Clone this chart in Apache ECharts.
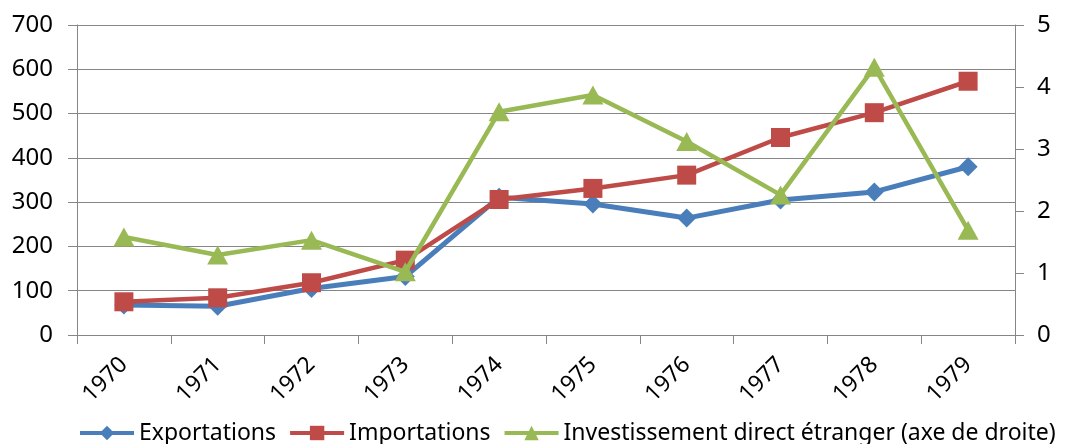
<!DOCTYPE html>
<html><head><meta charset="utf-8">
<script src="https://cdn.jsdelivr.net/npm/echarts@6/dist/echarts.min.js"></script>
<style>html,body{margin:0;padding:0;background:#fff}#c{width:1070px;height:444px}</style>
</head><body><div id="c"></div>
<script>
var years = ['1970','1971','1972','1973','1974','1975','1976','1977','1978','1979'];
var exportations = [68, 65, 105, 132, 311, 296, 264, 305, 323, 380];
var importations = [75, 84, 118, 169, 306, 331, 361, 446, 502, 573];
var ide = [1.58, 1.29, 1.53, 1.02, 3.6, 3.87, 3.12, 2.26, 4.32, 1.69];
var leftTicks = {min: 0, max: 700, interval: 100};
var rightTicks = {min: 0, max: 5, interval: 1};

var FONT = "'Noto Sans', 'Open Sans', sans-serif";
var gray = '#868686';
var chart = echarts.init(document.getElementById('c'));
chart.setOption({
  animation: false,
  backgroundColor: '#fff',
  grid: {left: 77, right: 55, top: 25, bottom: 109, containLabel: false},
  legend: {
    left: 78, top: 421, padding: 0, itemWidth: 54, itemHeight: 18, itemGap: 12,
    lineStyle: {width: 4},
    textStyle: {fontFamily: FONT, fontSize: 23, color: '#000', lineHeight: 24},
    data: ['Exportations', 'Importations', 'Investissement direct étranger (axe de droite)']
  },
  xAxis: {
    type: 'category', data: years, boundaryGap: true,
    axisLine: {lineStyle: {color: gray, width: 1}},
    axisTick: {show: true, length: 9, lineStyle: {color: gray}},
    axisLabel: {rotate: 45, fontFamily: FONT, fontSize: 23, color: '#000', margin: 26}
  },
  yAxis: [{
    type: 'value', min: leftTicks.min, max: leftTicks.max, interval: leftTicks.interval,
    axisLine: {show: true, lineStyle: {color: gray}},
    axisTick: {show: true, length: 9, lineStyle: {color: gray}},
    splitLine: {show: true, lineStyle: {color: gray, width: 1}},
    axisLabel: {fontFamily: FONT, fontSize: 24, color: '#000', margin: 24}
  }, {
    type: 'value', position: 'right', min: rightTicks.min, max: rightTicks.max, interval: rightTicks.interval,
    axisLine: {show: true, lineStyle: {color: gray}},
    axisTick: {show: true, length: 9, lineStyle: {color: gray}},
    splitLine: {show: false},
    axisLabel: {fontFamily: FONT, fontSize: 24, color: '#000', margin: 22}
  }],
  series: [{
    name: 'Exportations', type: 'line', data: exportations, yAxisIndex: 0,
    symbol: 'diamond', symbolSize: 19, z: 2,
    lineStyle: {color: '#4A7EBB', width: 5}, itemStyle: {color: '#4A7EBB'}
  }, {
    name: 'Importations', type: 'line', data: importations, yAxisIndex: 0,
    symbol: 'rect', symbolSize: 19, z: 3,
    lineStyle: {color: '#BE4B48', width: 4.5}, itemStyle: {color: '#BE4B48'}
  }, {
    name: 'Investissement direct étranger (axe de droite)', type: 'line', data: ide, yAxisIndex: 1,
    symbol: 'triangle', symbolSize: [21, 19], z: 4,
    lineStyle: {color: '#98B954', width: 4.5}, itemStyle: {color: '#98B954'}
  }]
});
</script></body></html>
